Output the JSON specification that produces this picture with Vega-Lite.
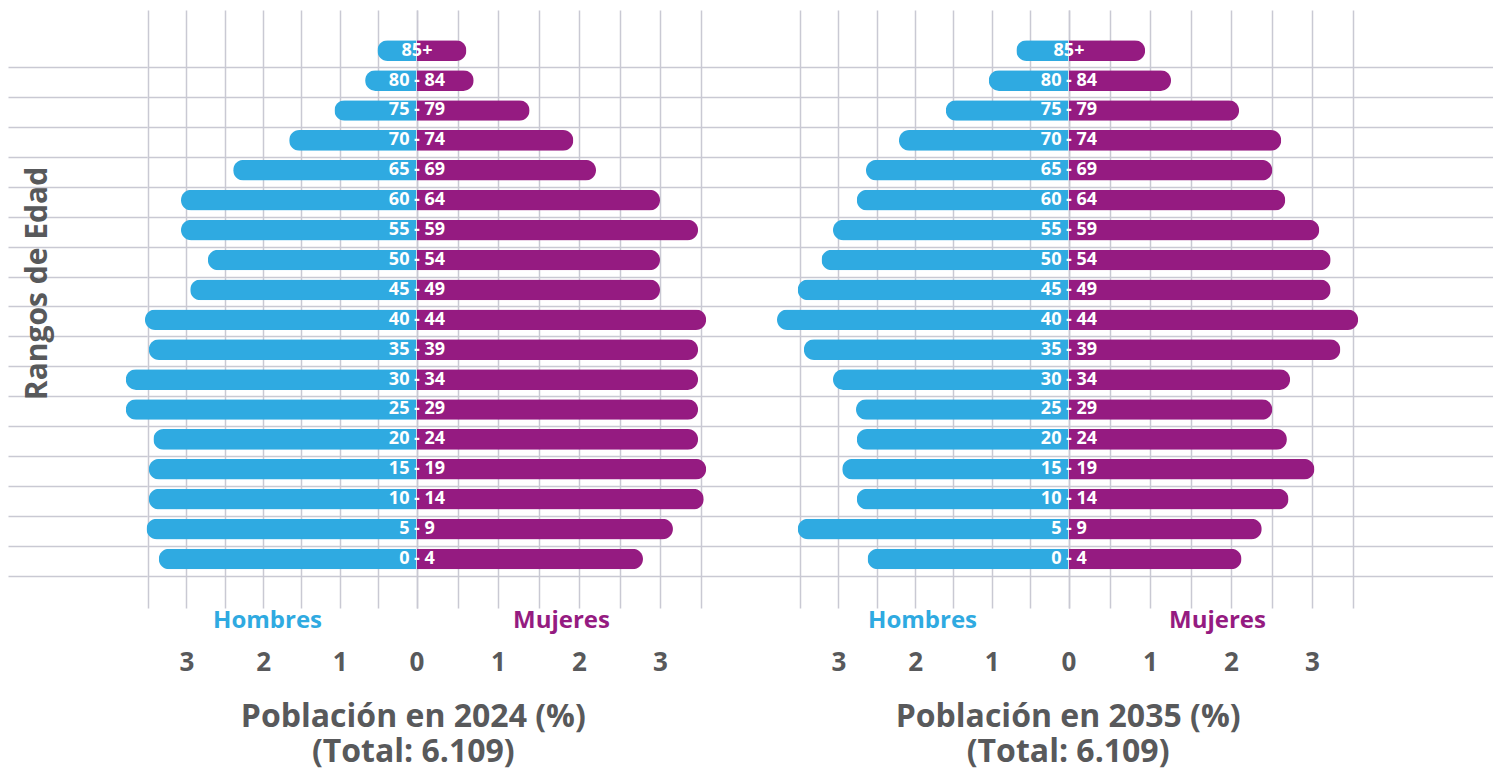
{
  "$schema": "https://vega.github.io/schema/vega-lite/v6.json",
  "background": "white",
  "padding": {"left": 8, "top": 10, "right": 0, "bottom": 0},
  "config": {
    "view": {"stroke": null},
    "font": "Open Sans",
    "axisX": {
      "grid": true, "gridColor": "#C9C9D3", "gridWidth": 1.5,
      "domain": false, "ticks": false, "tickSize": 0,
      "labelFontSize": 26, "labelFontWeight": "bold", "labelColor": "#58595B",
      "labelPadding": 54, "labelBaseline": "middle", "labelFlush": false, "labelOverlap": false,
      "titleFontSize": 24, "titleFontWeight": "bold", "titleBaseline": "middle"
    },
    "axisY": {
      "grid": true, "gridColor": "#C9C9D3", "gridWidth": 1.5,
      "domain": false, "ticks": false, "labels": false
    }
  },
  "datasets": {
    "pop": [
      {"age": "85+", "year": "2024", "sex": "Hombres", "pct": 0.51},
      {"age": "80 - 84", "year": "2024", "sex": "Hombres", "pct": 0.67},
      {"age": "75 - 79", "year": "2024", "sex": "Hombres", "pct": 1.07},
      {"age": "70 - 74", "year": "2024", "sex": "Hombres", "pct": 1.66},
      {"age": "65 - 69", "year": "2024", "sex": "Hombres", "pct": 2.39},
      {"age": "60 - 64", "year": "2024", "sex": "Hombres", "pct": 3.07},
      {"age": "55 - 59", "year": "2024", "sex": "Hombres", "pct": 3.07},
      {"age": "50 - 54", "year": "2024", "sex": "Hombres", "pct": 2.72},
      {"age": "45 - 49", "year": "2024", "sex": "Hombres", "pct": 2.95},
      {"age": "40 - 44", "year": "2024", "sex": "Hombres", "pct": 3.54},
      {"age": "35 - 39", "year": "2024", "sex": "Hombres", "pct": 3.49},
      {"age": "30 - 34", "year": "2024", "sex": "Hombres", "pct": 3.79},
      {"age": "25 - 29", "year": "2024", "sex": "Hombres", "pct": 3.79},
      {"age": "20 - 24", "year": "2024", "sex": "Hombres", "pct": 3.43},
      {"age": "15 - 19", "year": "2024", "sex": "Hombres", "pct": 3.49},
      {"age": "10 - 14", "year": "2024", "sex": "Hombres", "pct": 3.49},
      {"age": "5 - 9", "year": "2024", "sex": "Hombres", "pct": 3.52},
      {"age": "0 - 4", "year": "2024", "sex": "Hombres", "pct": 3.36},
      {"age": "85+", "year": "2024", "sex": "Mujeres", "pct": 0.61},
      {"age": "80 - 84", "year": "2024", "sex": "Mujeres", "pct": 0.70},
      {"age": "75 - 79", "year": "2024", "sex": "Mujeres", "pct": 1.39},
      {"age": "70 - 74", "year": "2024", "sex": "Mujeres", "pct": 1.93},
      {"age": "65 - 69", "year": "2024", "sex": "Mujeres", "pct": 2.21},
      {"age": "60 - 64", "year": "2024", "sex": "Mujeres", "pct": 3.00},
      {"age": "55 - 59", "year": "2024", "sex": "Mujeres", "pct": 3.47},
      {"age": "50 - 54", "year": "2024", "sex": "Mujeres", "pct": 3.00},
      {"age": "45 - 49", "year": "2024", "sex": "Mujeres", "pct": 3.00},
      {"age": "40 - 44", "year": "2024", "sex": "Mujeres", "pct": 3.57},
      {"age": "35 - 39", "year": "2024", "sex": "Mujeres", "pct": 3.47},
      {"age": "30 - 34", "year": "2024", "sex": "Mujeres", "pct": 3.47},
      {"age": "25 - 29", "year": "2024", "sex": "Mujeres", "pct": 3.47},
      {"age": "20 - 24", "year": "2024", "sex": "Mujeres", "pct": 3.47},
      {"age": "15 - 19", "year": "2024", "sex": "Mujeres", "pct": 3.57},
      {"age": "10 - 14", "year": "2024", "sex": "Mujeres", "pct": 3.54},
      {"age": "5 - 9", "year": "2024", "sex": "Mujeres", "pct": 3.16},
      {"age": "0 - 4", "year": "2024", "sex": "Mujeres", "pct": 2.79},
      {"age": "85+", "year": "2035", "sex": "Hombres", "pct": 0.68},
      {"age": "80 - 84", "year": "2035", "sex": "Hombres", "pct": 1.04},
      {"age": "75 - 79", "year": "2035", "sex": "Hombres", "pct": 1.60},
      {"age": "70 - 74", "year": "2035", "sex": "Hombres", "pct": 2.21},
      {"age": "65 - 69", "year": "2035", "sex": "Hombres", "pct": 2.64},
      {"age": "60 - 64", "year": "2035", "sex": "Hombres", "pct": 2.76},
      {"age": "55 - 59", "year": "2035", "sex": "Hombres", "pct": 3.07},
      {"age": "50 - 54", "year": "2035", "sex": "Hombres", "pct": 3.22},
      {"age": "45 - 49", "year": "2035", "sex": "Hombres", "pct": 3.53},
      {"age": "40 - 44", "year": "2035", "sex": "Hombres", "pct": 3.80},
      {"age": "35 - 39", "year": "2035", "sex": "Hombres", "pct": 3.45},
      {"age": "30 - 34", "year": "2035", "sex": "Hombres", "pct": 3.07},
      {"age": "25 - 29", "year": "2035", "sex": "Hombres", "pct": 2.77},
      {"age": "20 - 24", "year": "2035", "sex": "Hombres", "pct": 2.76},
      {"age": "15 - 19", "year": "2035", "sex": "Hombres", "pct": 2.95},
      {"age": "10 - 14", "year": "2035", "sex": "Hombres", "pct": 2.76},
      {"age": "5 - 9", "year": "2035", "sex": "Hombres", "pct": 3.53},
      {"age": "0 - 4", "year": "2035", "sex": "Hombres", "pct": 2.62},
      {"age": "85+", "year": "2035", "sex": "Mujeres", "pct": 0.94},
      {"age": "80 - 84", "year": "2035", "sex": "Mujeres", "pct": 1.26},
      {"age": "75 - 79", "year": "2035", "sex": "Mujeres", "pct": 2.10},
      {"age": "70 - 74", "year": "2035", "sex": "Mujeres", "pct": 2.62},
      {"age": "65 - 69", "year": "2035", "sex": "Mujeres", "pct": 2.51},
      {"age": "60 - 64", "year": "2035", "sex": "Mujeres", "pct": 2.67},
      {"age": "55 - 59", "year": "2035", "sex": "Mujeres", "pct": 3.09},
      {"age": "50 - 54", "year": "2035", "sex": "Mujeres", "pct": 3.23},
      {"age": "45 - 49", "year": "2035", "sex": "Mujeres", "pct": 3.23},
      {"age": "40 - 44", "year": "2035", "sex": "Mujeres", "pct": 3.57},
      {"age": "35 - 39", "year": "2035", "sex": "Mujeres", "pct": 3.35},
      {"age": "30 - 34", "year": "2035", "sex": "Mujeres", "pct": 2.73},
      {"age": "25 - 29", "year": "2035", "sex": "Mujeres", "pct": 2.51},
      {"age": "20 - 24", "year": "2035", "sex": "Mujeres", "pct": 2.69},
      {"age": "15 - 19", "year": "2035", "sex": "Mujeres", "pct": 3.03},
      {"age": "10 - 14", "year": "2035", "sex": "Mujeres", "pct": 2.71},
      {"age": "5 - 9", "year": "2035", "sex": "Mujeres", "pct": 2.38},
      {"age": "0 - 4", "year": "2035", "sex": "Mujeres", "pct": 2.13}
    ]
  },
  "data": {"name": "pop"},
  "spacing": 0,
  "bounds": "flush",
  "resolve": {"scale": {"x": "independent", "y": "shared"}},
  "hconcat": [
    {
      "width": 139.2, "height": 598,
      "mark": {"type": "tick", "opacity": 0},
      "encoding": {
        "y": {"field": "age", "type": "nominal", "sort": null,
          "scale": {"domain": ["85+","80 - 84","75 - 79","70 - 74","65 - 69","60 - 64","55 - 59","50 - 54","45 - 49","40 - 44","35 - 39","30 - 34","25 - 29","20 - 24","15 - 19","10 - 14","5 - 9","0 - 4"], "paddingInner": 0, "paddingOuter": 1.034, "align": 0.43},
          "axis": {"bandPosition": 1.07, "title": "Rangos de Edad", "titleFontSize": 30, "titleFontWeight": "bold", "titleColor": "#58595B", "titleX": 29, "titleY": 273, "titleAngle": 270, "titleAlign": "center", "titleBaseline": "middle"}}
      }
    },
    {
      "width": 268.5, "height": 598,
      "title": {"text": ["Población en 2024 (%)", "(Total: 6.109)"], "orient": "bottom", "anchor": "end", "frame": "group", "align": "center", "fontSize": 32, "fontWeight": "bold", "color": "#58595B", "lineHeight": 35, "dx": -3.2, "offset": 27},
      "transform": [{"filter": "datum.year == '2024' && datum.sex == 'Hombres'"}],
      "mark": {"type": "bar", "color": "#2FAAE1", "height": {"band": 0.69}, "cornerRadiusTopLeft": 10.3, "cornerRadiusBottomLeft": 10.3},
      "encoding": {
        "y": {"field": "age", "type": "nominal", "sort": null, "axis": {"bandPosition": 1.07, "title": null}},
        "x": {"field": "pct", "type": "quantitative",
          "scale": {"domain": [0, 3.5], "reverse": true, "nice": false},
          "axis": {"values": [0, 0.5, 1, 1.5, 2, 2.5, 3, 3.5], "labelExpr": "datum.value % 1 == 0 ? format(datum.value, 'd') : ''", "title": "Hombres", "titleColor": "#2FAAE1", "titleX": 119, "titleY": 12}}
      }
    },
    {
      "width": 283.5, "height": 598,
      "transform": [{"filter": "datum.year == '2024' && datum.sex == 'Mujeres'"}],
      "encoding": {
        "y": {"field": "age", "type": "nominal", "sort": null, "axis": {"bandPosition": 1.07, "title": null}}
      },
      "layer": [
        {
          "mark": {"type": "bar", "color": "#951B81", "height": {"band": 0.69}, "cornerRadiusTopRight": 10.3, "cornerRadiusBottomRight": 10.3},
          "encoding": {
            "x": {"field": "pct", "type": "quantitative",
              "scale": {"domain": [0, 3.5], "nice": false},
              "axis": {"values": [0, 0.5, 1, 1.5, 2, 2.5, 3, 3.5], "labelExpr": "datum.value % 1 == 0 && datum.value > 0 ? format(datum.value, 'd') : ''", "title": "Mujeres", "titleColor": "#951B81", "titleX": 144, "titleY": 12}}
          }
        },
        {
          "mark": {"type": "text", "color": "white", "fontSize": 18, "fontWeight": "bold", "align": "center", "baseline": "middle"},
          "encoding": {
            "x": {"datum": 0, "type": "quantitative"},
            "text": {"field": "age"}
          }
        }
      ]
    },
    {
      "width": 99, "height": 598,
      "mark": {"type": "tick", "opacity": 0},
      "encoding": {
        "y": {"field": "age", "type": "nominal", "sort": null, "axis": {"bandPosition": 1.07, "title": null}}
      }
    },
    {
      "width": 268.5, "height": 598,
      "title": {"text": ["Población en 2035 (%)", "(Total: 6.109)"], "orient": "bottom", "anchor": "end", "frame": "group", "align": "center", "fontSize": 32, "fontWeight": "bold", "color": "#58595B", "lineHeight": 35, "dx": -0.4, "offset": 27},
      "transform": [{"filter": "datum.year == '2035' && datum.sex == 'Hombres'"}],
      "mark": {"type": "bar", "color": "#2FAAE1", "height": {"band": 0.69}, "cornerRadiusTopLeft": 10.3, "cornerRadiusBottomLeft": 10.3},
      "encoding": {
        "y": {"field": "age", "type": "nominal", "sort": null, "axis": {"bandPosition": 1.07, "title": null}},
        "x": {"field": "pct", "type": "quantitative",
          "scale": {"domain": [0, 3.5], "reverse": true, "nice": false},
          "axis": {"values": [0, 0.5, 1, 1.5, 2, 2.5, 3, 3.5], "labelExpr": "datum.value % 1 == 0 ? format(datum.value, 'd') : ''", "title": "Hombres", "titleColor": "#2FAAE1", "titleX": 122, "titleY": 12}}
      }
    },
    {
      "width": 283.5, "height": 598,
      "transform": [{"filter": "datum.year == '2035' && datum.sex == 'Mujeres'"}],
      "encoding": {
        "y": {"field": "age", "type": "nominal", "sort": null, "axis": {"bandPosition": 1.07, "title": null}}
      },
      "layer": [
        {
          "mark": {"type": "bar", "color": "#951B81", "height": {"band": 0.69}, "cornerRadiusTopRight": 10.3, "cornerRadiusBottomRight": 10.3},
          "encoding": {
            "x": {"field": "pct", "type": "quantitative",
              "scale": {"domain": [0, 3.5], "nice": false},
              "axis": {"values": [0, 0.5, 1, 1.5, 2, 2.5, 3, 3.5], "labelExpr": "datum.value % 1 == 0 && datum.value > 0 ? format(datum.value, 'd') : ''", "title": "Mujeres", "titleColor": "#951B81", "titleX": 148, "titleY": 12}}
          }
        },
        {
          "mark": {"type": "text", "color": "white", "fontSize": 18, "fontWeight": "bold", "align": "center", "baseline": "middle"},
          "encoding": {
            "x": {"datum": 0, "type": "quantitative"},
            "text": {"field": "age"}
          }
        }
      ]
    },
    {
      "width": 140, "height": 598,
      "mark": {"type": "tick", "opacity": 0},
      "encoding": {
        "y": {"field": "age", "type": "nominal", "sort": null, "axis": {"bandPosition": 1.07, "title": null}}
      }
    }
  ]
}
